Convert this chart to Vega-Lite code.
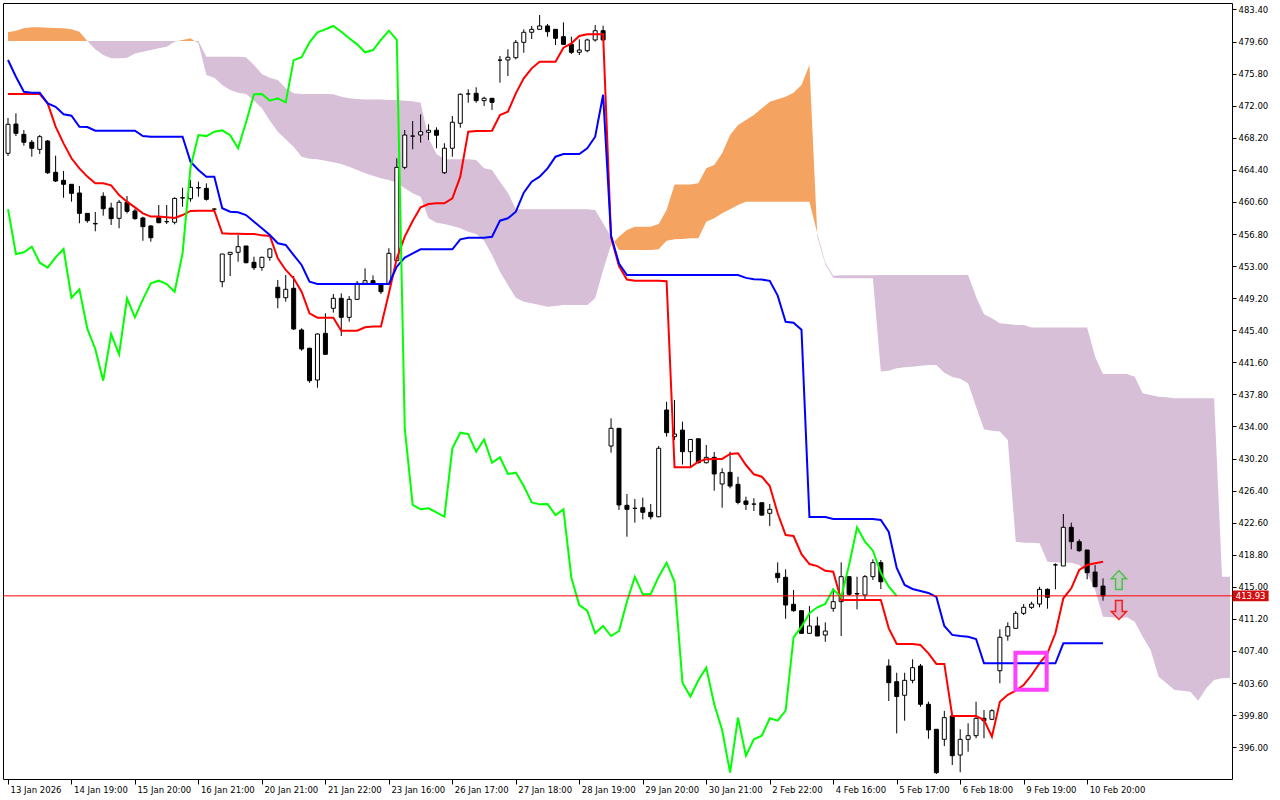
{
"$schema": "https://vega.github.io/schema/vega-lite/v6.json",
"width": 1229, "height": 776,
"autosize": {"type": "none"},
"padding": {"left": 3, "top": 3, "right": 48, "bottom": 21},
"background": "white",
"config": {"view": {"stroke": "black", "strokeWidth": 1}, "font": "DejaVu Sans"},
"datasets": {
"candles": [
{"i":0,"o":466.36,"h":470.55,"l":466.04,"c":469.8,"t":473.39,"k":477.42},
{"i":1,"o":469.83,"h":471.1,"l":468.41,"c":468.73,"t":473.39,"k":475.44},
{"i":2,"o":468.61,"h":469.12,"l":467.26,"c":467.67,"t":473.39,"k":473.66},
{"i":3,"o":467.67,"h":467.94,"l":465.96,"c":466.96,"t":473.39,"k":473.55},
{"i":4,"o":466.83,"h":468.53,"l":466.28,"c":468.33,"t":473.39,"k":473.55},
{"i":5,"o":467.82,"h":467.94,"l":463.91,"c":464.06,"t":472.28,"k":472.28},
{"i":6,"o":464.11,"h":466.08,"l":462.96,"c":463.08,"t":469.52,"k":471.88},
{"i":7,"o":463.16,"h":464.27,"l":461.1,"c":462.69,"t":467.54,"k":470.98},
{"i":8,"o":462.69,"h":462.69,"l":460.63,"c":461.62,"t":465.77,"k":470.82},
{"i":9,"o":461.66,"h":462.49,"l":458.07,"c":459.25,"t":464.58,"k":469.51},
{"i":10,"o":459.25,"h":459.25,"l":458.14,"c":458.38,"t":463.6,"k":469.48},
{"i":11,"o":458.0,"h":459.41,"l":457.12,"c":458.05,"t":462.8,"k":469.04},
{"i":12,"o":461.27,"h":461.74,"l":458.97,"c":459.8,"t":462.8,"k":469.04},
{"i":13,"o":459.88,"h":460.51,"l":457.87,"c":458.62,"t":462.57,"k":469.04},
{"i":14,"o":458.66,"h":460.83,"l":457.48,"c":460.56,"t":461.42,"k":469.04},
{"i":15,"o":460.56,"h":461.3,"l":459.25,"c":459.49,"t":460.63,"k":469.04},
{"i":16,"o":459.53,"h":459.8,"l":458.5,"c":458.62,"t":459.96,"k":469.04},
{"i":17,"o":458.7,"h":458.85,"l":456.0,"c":457.67,"t":459.25,"k":468.41},
{"i":18,"o":457.75,"h":457.87,"l":455.89,"c":456.36,"t":458.86,"k":468.33},
{"i":19,"o":458.73,"h":460.24,"l":458.07,"c":458.14,"t":458.86,"k":468.33},
{"i":20,"o":458.26,"h":460.24,"l":457.99,"c":458.26,"t":458.78,"k":468.33},
{"i":21,"o":458.19,"h":461.14,"l":457.95,"c":461.02,"t":458.7,"k":468.33},
{"i":22,"o":461.06,"h":462.29,"l":460.03,"c":461.1,"t":459.05,"k":468.33},
{"i":23,"o":460.98,"h":463.2,"l":460.63,"c":462.33,"t":459.53,"k":465.37},
{"i":24,"o":462.3,"h":463.0,"l":461.22,"c":462.25,"t":459.57,"k":464.38},
{"i":25,"o":462.21,"h":462.8,"l":460.75,"c":460.91,"t":459.57,"k":463.59},
{"i":26,"o":459.75,"h":459.85,"l":459.65,"c":459.75,"t":459.57,"k":463.59},
{"i":27,"o":451.15,"h":454.43,"l":450.49,"c":454.43,"t":456.88,"k":459.85},
{"i":28,"o":454.39,"h":454.63,"l":451.82,"c":454.63,"t":456.84,"k":459.44},
{"i":29,"o":454.63,"h":456.68,"l":453.52,"c":455.3,"t":456.84,"k":459.37},
{"i":30,"o":455.38,"h":455.38,"l":453.33,"c":453.4,"t":456.8,"k":459.05},
{"i":31,"o":453.45,"h":454.11,"l":452.54,"c":452.81,"t":456.8,"k":458.26},
{"i":32,"o":452.85,"h":454.11,"l":452.45,"c":454.04,"t":456.64,"k":457.48},
{"i":33,"o":454.04,"h":455.11,"l":453.64,"c":455.03,"t":456.56,"k":456.68},
{"i":34,"o":450.49,"h":451.35,"l":448.0,"c":449.25,"t":453.92,"k":455.7},
{"i":35,"o":449.25,"h":451.94,"l":448.78,"c":450.25,"t":452.54,"k":455.5},
{"i":36,"o":450.37,"h":451.82,"l":445.43,"c":445.55,"t":451.55,"k":454.31},
{"i":37,"o":445.43,"h":445.63,"l":442.97,"c":443.18,"t":449.97,"k":453.13},
{"i":38,"o":443.26,"h":443.33,"l":439.18,"c":439.42,"t":447.4,"k":451.15},
{"i":39,"o":439.5,"h":445.03,"l":438.59,"c":444.95,"t":446.89,"k":450.88},
{"i":40,"o":445.03,"h":447.4,"l":442.55,"c":442.55,"t":446.89,"k":450.88},
{"i":41,"o":448.0,"h":449.69,"l":447.48,"c":449.18,"t":446.89,"k":450.88},
{"i":42,"o":449.18,"h":449.77,"l":444.72,"c":446.93,"t":445.35,"k":450.88},
{"i":43,"o":446.93,"h":449.45,"l":446.41,"c":449.06,"t":445.35,"k":450.88},
{"i":44,"o":449.06,"h":451.23,"l":448.98,"c":450.96,"t":445.35,"k":450.88},
{"i":45,"o":450.96,"h":452.73,"l":450.76,"c":451.27,"t":445.75,"k":450.88},
{"i":46,"o":451.27,"h":451.9,"l":450.76,"c":450.88,"t":445.83,"k":450.88},
{"i":47,"o":450.88,"h":450.88,"l":449.69,"c":449.97,"t":445.83,"k":450.88},
{"i":48,"o":450.88,"h":455.11,"l":450.88,"c":454.51,"t":449.77,"k":450.88},
{"i":49,"o":453.64,"h":465.77,"l":453.6,"c":464.7,"t":453.92,"k":452.93},
{"i":50,"o":464.7,"h":469.12,"l":464.47,"c":468.53,"t":456.49,"k":454.0},
{"i":51,"o":468.4,"h":470.19,"l":466.84,"c":468.4,"t":458.35,"k":454.5},
{"i":52,"o":468.53,"h":470.98,"l":467.62,"c":468.92,"t":459.96,"k":454.99},
{"i":53,"o":468.85,"h":469.8,"l":467.94,"c":469.09,"t":460.36,"k":454.99},
{"i":54,"o":469.09,"h":469.44,"l":466.96,"c":468.5,"t":460.43,"k":454.99},
{"i":55,"o":464.06,"h":467.55,"l":463.91,"c":466.96,"t":460.43,"k":454.99},
{"i":56,"o":466.96,"h":470.78,"l":465.96,"c":470.04,"t":461.03,"k":454.99},
{"i":57,"o":469.92,"h":473.47,"l":469.4,"c":473.35,"t":463.6,"k":456.17},
{"i":58,"o":473.4,"h":473.94,"l":472.36,"c":473.4,"t":468.93,"k":456.36},
{"i":59,"o":473.47,"h":474.18,"l":472.36,"c":472.6,"t":469.0,"k":456.36},
{"i":60,"o":472.6,"h":473.07,"l":471.97,"c":472.88,"t":469.0,"k":456.36},
{"i":61,"o":472.88,"h":472.88,"l":471.5,"c":472.4,"t":469.04,"k":456.48},
{"i":62,"o":477.4,"h":477.89,"l":474.73,"c":477.4,"t":470.9,"k":458.38},
{"i":63,"o":477.42,"h":478.69,"l":475.52,"c":477.74,"t":471.3,"k":458.66},
{"i":64,"o":477.69,"h":479.79,"l":477.49,"c":479.51,"t":473.47,"k":459.44},
{"i":65,"o":479.51,"h":481.05,"l":478.28,"c":480.7,"t":475.25,"k":461.7},
{"i":66,"o":480.7,"h":481.45,"l":479.9,"c":481.05,"t":476.43,"k":463.0},
{"i":67,"o":481.05,"h":482.75,"l":481.05,"c":481.45,"t":477.22,"k":463.59},
{"i":68,"o":481.45,"h":481.68,"l":480.18,"c":480.77,"t":477.22,"k":464.58},
{"i":69,"o":481.05,"h":481.05,"l":479.19,"c":479.99,"t":477.22,"k":465.96},
{"i":70,"o":480.18,"h":481.88,"l":479.19,"c":479.27,"t":478.88,"k":466.28},
{"i":71,"o":479.27,"h":480.18,"l":478.13,"c":478.33,"t":479.39,"k":466.28},
{"i":72,"o":478.33,"h":479.87,"l":478.01,"c":478.6,"t":480.26,"k":466.28},
{"i":73,"o":478.52,"h":479.94,"l":478.33,"c":479.79,"t":480.46,"k":466.96},
{"i":74,"o":479.79,"h":481.56,"l":479.59,"c":480.89,"t":480.46,"k":468.33},
{"i":75,"o":480.89,"h":481.48,"l":479.71,"c":479.79,"t":480.46,"k":473.3},
{"i":76,"o":431.68,"h":434.96,"l":430.89,"c":433.78,"t":456.4,"k":456.6},
{"i":77,"o":433.78,"h":433.78,"l":424.1,"c":424.7,"t":453.0,"k":453.3},
{"i":78,"o":424.66,"h":426.0,"l":420.94,"c":424.18,"t":451.41,"k":451.94},
{"i":79,"o":424.3,"h":425.4,"l":422.6,"c":424.3,"t":451.25,"k":451.94},
{"i":80,"o":424.37,"h":425.56,"l":422.99,"c":423.83,"t":451.25,"k":451.94},
{"i":81,"o":423.83,"h":424.81,"l":422.99,"c":423.3,"t":451.25,"k":451.94},
{"i":82,"o":423.3,"h":431.68,"l":423.24,"c":431.41,"t":451.25,"k":451.94},
{"i":83,"o":435.95,"h":436.93,"l":432.79,"c":433.26,"t":451.21,"k":451.94},
{"i":84,"o":432.79,"h":437.13,"l":432.4,"c":433.1,"t":429.16,"k":451.94},
{"i":85,"o":433.57,"h":434.57,"l":429.49,"c":431.01,"t":429.16,"k":451.94},
{"i":86,"o":431.01,"h":432.46,"l":429.16,"c":432.46,"t":429.16,"k":451.94},
{"i":87,"o":432.54,"h":432.54,"l":429.62,"c":429.7,"t":429.83,"k":451.94},
{"i":88,"o":429.7,"h":431.8,"l":429.62,"c":430.34,"t":430.1,"k":451.94},
{"i":89,"o":430.34,"h":430.98,"l":426.39,"c":428.37,"t":430.15,"k":451.94},
{"i":90,"o":427.18,"h":429.04,"l":424.37,"c":428.52,"t":430.15,"k":451.94},
{"i":91,"o":428.56,"h":431.0,"l":426.67,"c":426.94,"t":430.74,"k":451.94},
{"i":92,"o":427.14,"h":428.04,"l":424.77,"c":425.0,"t":430.82,"k":451.94},
{"i":93,"o":425.17,"h":425.68,"l":424.1,"c":424.77,"t":429.43,"k":451.6},
{"i":94,"o":424.8,"h":425.49,"l":423.98,"c":424.8,"t":428.33,"k":451.45},
{"i":95,"o":424.96,"h":424.96,"l":423.39,"c":423.5,"t":428.05,"k":451.4},
{"i":96,"o":423.71,"h":424.81,"l":422.2,"c":424.18,"t":426.94,"k":451.25},
{"i":97,"o":416.6,"h":417.9,"l":415.49,"c":416.08,"t":423.71,"k":449.5},
{"i":98,"o":416.13,"h":417.07,"l":411.22,"c":412.84,"t":421.14,"k":446.4},
{"i":99,"o":412.93,"h":414.62,"l":412.05,"c":412.17,"t":421.02,"k":446.3},
{"i":100,"o":412.17,"h":412.17,"l":409.41,"c":409.49,"t":418.87,"k":445.45},
{"i":101,"o":409.49,"h":412.72,"l":409.41,"c":410.36,"t":417.7,"k":423.27},
{"i":102,"o":410.36,"h":411.46,"l":409.17,"c":409.17,"t":417.45,"k":423.27},
{"i":103,"o":409.29,"h":410.79,"l":408.49,"c":409.76,"t":416.9,"k":423.27},
{"i":104,"o":412.45,"h":414.82,"l":412.05,"c":413.24,"t":416.79,"k":423.03},
{"i":105,"o":413.24,"h":417.9,"l":409.17,"c":416.2,"t":413.44,"k":423.03},
{"i":106,"o":416.2,"h":416.2,"l":413.94,"c":414.11,"t":413.44,"k":423.03},
{"i":107,"o":414.2,"h":416.2,"l":412.33,"c":414.15,"t":413.44,"k":423.03},
{"i":108,"o":414.03,"h":416.4,"l":413.44,"c":416.2,"t":413.44,"k":423.03},
{"i":109,"o":416.2,"h":418.26,"l":415.8,"c":417.86,"t":413.44,"k":423.03},
{"i":110,"o":417.86,"h":418.18,"l":414.74,"c":415.6,"t":413.44,"k":422.92},
{"i":111,"o":405.62,"h":406.41,"l":401.47,"c":403.64,"t":410.08,"k":421.5},
{"i":112,"o":403.76,"h":404.82,"l":397.63,"c":402.0,"t":408.22,"k":417.23},
{"i":113,"o":402.15,"h":404.82,"l":399.14,"c":403.92,"t":408.22,"k":415.22},
{"i":114,"o":403.92,"h":406.41,"l":403.57,"c":405.42,"t":408.22,"k":414.74},
{"i":115,"o":405.62,"h":405.86,"l":400.8,"c":401.08,"t":408.1,"k":414.5},
{"i":116,"o":401.08,"h":401.39,"l":397.0,"c":398.04,"t":407.12,"k":414.27},
{"i":117,"o":398.12,"h":398.12,"l":392.82,"c":392.98,"t":405.86,"k":413.8},
{"i":118,"o":396.93,"h":400.3,"l":396.13,"c":399.5,"t":405.86,"k":410.36},
{"i":119,"o":399.7,"h":399.8,"l":393.89,"c":394.99,"t":399.7,"k":409.3},
{"i":120,"o":395.07,"h":398.12,"l":393.03,"c":396.93,"t":399.7,"k":409.17},
{"i":121,"o":396.93,"h":398.83,"l":395.46,"c":397.36,"t":399.7,"k":409.09},
{"i":122,"o":397.36,"h":401.39,"l":397.05,"c":399.42,"t":399.7,"k":408.82},
{"i":123,"o":399.42,"h":400.4,"l":397.05,"c":399.14,"t":399.22,"k":405.94},
{"i":124,"o":399.3,"h":400.5,"l":399.22,"c":400.32,"t":397.24,"k":405.94},
{"i":125,"o":405.06,"h":409.97,"l":403.57,"c":409.02,"t":401.39,"k":405.94},
{"i":126,"o":409.17,"h":410.79,"l":408.61,"c":410.28,"t":402.2,"k":405.94},
{"i":127,"o":410.08,"h":412.13,"l":410.08,"c":411.86,"t":402.69,"k":405.94},
{"i":128,"o":411.86,"h":412.96,"l":411.66,"c":412.57,"t":403.37,"k":405.94},
{"i":129,"o":412.57,"h":413.24,"l":412.37,"c":412.96,"t":404.55,"k":405.94},
{"i":130,"o":412.96,"h":415.01,"l":412.57,"c":414.7,"t":405.94,"k":405.94},
{"i":131,"o":414.7,"h":414.82,"l":412.41,"c":413.76,"t":407.12,"k":405.94},
{"i":132,"o":417.6,"h":417.78,"l":414.7,"c":417.6,"t":409.49,"k":405.94},
{"i":133,"o":417.47,"h":423.63,"l":417.47,"c":422.05,"t":413.64,"k":408.31},
{"i":134,"o":422.05,"h":422.6,"l":419.44,"c":420.35,"t":414.82,"k":408.31},
{"i":135,"o":420.35,"h":420.63,"l":419.16,"c":419.28,"t":416.99,"k":408.31},
{"i":136,"o":419.36,"h":419.36,"l":415.89,"c":416.67,"t":417.58,"k":408.31},
{"i":137,"o":416.75,"h":417.58,"l":415.01,"c":415.01,"t":417.78,"k":408.31},
{"i":138,"o":415.09,"h":416.0,"l":413.35,"c":413.93,"t":417.97,"k":408.31}
],
"chikou": [
{"i":0,"v":459.75},{"i":1,"v":454.43},{"i":2,"v":454.63},{"i":3,"v":455.3},{"i":4,"v":453.4},{"i":5,"v":452.81},{"i":6,"v":454.04},{"i":7,"v":455.03},{"i":8,"v":449.25},{"i":9,"v":450.25},
{"i":10,"v":445.55},{"i":11,"v":443.18},{"i":12,"v":439.42},{"i":13,"v":444.95},{"i":14,"v":442.55},{"i":15,"v":449.18},{"i":16,"v":446.93},{"i":17,"v":449.06},{"i":18,"v":450.96},{"i":19,"v":451.27},
{"i":20,"v":450.88},{"i":21,"v":449.97},{"i":22,"v":454.51},{"i":23,"v":464.7},{"i":24,"v":468.53},{"i":25,"v":468.4},{"i":26,"v":468.92},{"i":27,"v":469.09},{"i":28,"v":468.5},{"i":29,"v":466.96},
{"i":30,"v":470.04},{"i":31,"v":473.35},{"i":32,"v":473.4},{"i":33,"v":472.6},{"i":34,"v":472.88},{"i":35,"v":472.4},{"i":36,"v":477.4},{"i":37,"v":477.74},{"i":38,"v":479.51},{"i":39,"v":480.7},
{"i":40,"v":481.05},{"i":41,"v":481.45},{"i":42,"v":480.77},{"i":43,"v":479.99},{"i":44,"v":479.27},{"i":45,"v":478.33},{"i":46,"v":478.6},{"i":47,"v":479.79},{"i":48,"v":480.89},{"i":49,"v":479.79},
{"i":50,"v":433.78},{"i":51,"v":424.7},{"i":52,"v":424.18},{"i":53,"v":424.3},{"i":54,"v":423.83},{"i":55,"v":423.3},{"i":56,"v":431.41},{"i":57,"v":433.26},{"i":58,"v":433.1},{"i":59,"v":431.01},
{"i":60,"v":432.46},{"i":61,"v":429.7},{"i":62,"v":430.34},{"i":63,"v":428.37},{"i":64,"v":428.52},{"i":65,"v":426.94},{"i":66,"v":425.0},{"i":67,"v":424.77},{"i":68,"v":424.8},{"i":69,"v":423.5},
{"i":70,"v":424.18},{"i":71,"v":416.08},{"i":72,"v":412.84},{"i":73,"v":412.17},{"i":74,"v":409.49},{"i":75,"v":410.36},{"i":76,"v":409.17},{"i":77,"v":409.76},{"i":78,"v":413.24},{"i":79,"v":416.2},
{"i":80,"v":414.11},{"i":81,"v":414.15},{"i":82,"v":416.2},{"i":83,"v":417.86},{"i":84,"v":415.6},{"i":85,"v":403.64},{"i":86,"v":402.0},{"i":87,"v":403.92},{"i":88,"v":405.42},{"i":89,"v":401.08},
{"i":90,"v":398.04},{"i":91,"v":392.98},{"i":92,"v":399.5},{"i":93,"v":394.99},{"i":94,"v":396.93},{"i":95,"v":397.36},{"i":96,"v":399.42},{"i":97,"v":399.14},{"i":98,"v":400.32},{"i":99,"v":409.02},
{"i":100,"v":410.28},{"i":101,"v":411.86},{"i":102,"v":412.57},{"i":103,"v":412.96},{"i":104,"v":414.7},{"i":105,"v":413.76},{"i":106,"v":417.6},{"i":107,"v":422.05},{"i":108,"v":420.35},{"i":109,"v":419.28},
{"i":110,"v":416.67},{"i":111,"v":415.01},{"i":112,"v":413.93}
],
"cloud": [
{"i":0,"a":480.7,"b":479.67,"s":1,"k":"up"},{"i":1,"a":480.89,"b":479.67,"s":1,"k":"up"},{"i":2,"a":481.17,"b":479.67,"s":1,"k":"up"},{"i":3,"a":481.29,"b":479.67,"s":1,"k":"up"},{"i":4,"a":481.29,"b":479.67,"s":1,"k":"up"},{"i":5,"a":481.25,"b":479.67,"s":1,"k":"up"},{"i":6,"a":481.21,"b":479.67,"s":1,"k":"up"},{"i":7,"a":481.17,"b":479.67,"s":1,"k":"up"},{"i":8,"a":481.06,"b":479.67,"s":1,"k":"up"},{"i":9,"a":480.77,"b":479.67,"s":1,"k":"up"},{"i":10,"a":479.67,"b":479.67,"s":1,"k":"up"},
{"i":10,"a":479.67,"b":479.67,"s":2,"k":"dn"},{"i":11,"a":478.68,"b":479.67,"s":2,"k":"dn"},{"i":12,"a":478.01,"b":479.67,"s":2,"k":"dn"},{"i":13,"a":477.62,"b":479.67,"s":2,"k":"dn"},{"i":14,"a":477.62,"b":479.67,"s":2,"k":"dn"},{"i":15,"a":477.69,"b":479.67,"s":2,"k":"dn"},{"i":16,"a":478.2,"b":479.67,"s":2,"k":"dn"},{"i":17,"a":478.4,"b":479.67,"s":2,"k":"dn"},{"i":18,"a":478.6,"b":479.67,"s":2,"k":"dn"},{"i":19,"a":478.8,"b":479.67,"s":2,"k":"dn"},{"i":20,"a":479.0,"b":479.67,"s":2,"k":"dn"},{"i":21,"a":479.59,"b":479.67,"s":2,"k":"dn"},{"i":21.4,"a":479.67,"b":479.67,"s":2,"k":"dn"},
{"i":21.4,"a":479.67,"b":479.67,"s":3,"k":"up"},{"i":22,"a":479.79,"b":479.67,"s":3,"k":"up"},{"i":23,"a":479.98,"b":479.67,"s":3,"k":"up"},{"i":23.53,"a":479.67,"b":479.67,"s":3,"k":"up"},
{"i":23.53,"a":479.67,"b":479.67,"s":4,"k":"dn"},{"i":24,"a":479.39,"b":479.67,"s":4,"k":"dn"},{"i":25,"a":475.64,"b":477.81,"s":4,"k":"dn"},{"i":26,"a":475.32,"b":477.81,"s":4,"k":"dn"},{"i":27,"a":474.46,"b":477.81,"s":4,"k":"dn"},{"i":28,"a":473.86,"b":477.81,"s":4,"k":"dn"},{"i":29,"a":473.54,"b":477.81,"s":4,"k":"dn"},{"i":30,"a":473.39,"b":477.73,"s":4,"k":"dn"},
{"i":31,"a":472.6,"b":476.83,"s":4,"k":"dn"},{"i":32,"a":471.69,"b":475.76,"s":4,"k":"dn"},{"i":33,"a":470.23,"b":475.32,"s":4,"k":"dn"},{"i":34,"a":468.93,"b":475.05,"s":4,"k":"dn"},{"i":35,"a":468.02,"b":474.06,"s":4,"k":"dn"},{"i":36,"a":467.15,"b":473.47,"s":4,"k":"dn"},{"i":37,"a":465.96,"b":473.39,"s":4,"k":"dn"},{"i":38,"a":465.73,"b":473.39,"s":4,"k":"dn"},{"i":39,"a":465.65,"b":473.39,"s":4,"k":"dn"},{"i":40,"a":465.49,"b":473.39,"s":4,"k":"dn"},
{"i":41,"a":465.3,"b":473.35,"s":4,"k":"dn"},{"i":42,"a":465.1,"b":473.07,"s":4,"k":"dn"},{"i":43,"a":464.78,"b":472.88,"s":4,"k":"dn"},{"i":44,"a":464.38,"b":472.8,"s":4,"k":"dn"},{"i":45,"a":463.99,"b":472.75,"s":4,"k":"dn"},{"i":46,"a":463.71,"b":472.75,"s":4,"k":"dn"},{"i":47,"a":463.4,"b":472.75,"s":4,"k":"dn"},{"i":48,"a":463.2,"b":472.68,"s":4,"k":"dn"},{"i":49,"a":462.88,"b":472.68,"s":4,"k":"dn"},{"i":50,"a":462.21,"b":472.6,"s":4,"k":"dn"},
{"i":51,"a":461.62,"b":472.52,"s":4,"k":"dn"},{"i":52,"a":461.22,"b":472.36,"s":4,"k":"dn"},{"i":53,"a":458.66,"b":468.14,"s":4,"k":"dn"},{"i":54,"a":458.14,"b":466.28,"s":4,"k":"dn"},{"i":55,"a":458.0,"b":465.65,"s":4,"k":"dn"},{"i":56,"a":457.75,"b":465.65,"s":4,"k":"dn"},{"i":57,"a":457.47,"b":465.65,"s":4,"k":"dn"},{"i":58,"a":457.07,"b":465.65,"s":4,"k":"dn"},{"i":59,"a":456.8,"b":465.57,"s":4,"k":"dn"},{"i":60,"a":456.0,"b":464.58,"s":4,"k":"dn"},
{"i":61,"a":454.31,"b":464.38,"s":4,"k":"dn"},{"i":62,"a":452.34,"b":463.0,"s":4,"k":"dn"},{"i":63,"a":450.76,"b":461.7,"s":4,"k":"dn"},{"i":64,"a":449.25,"b":459.73,"s":4,"k":"dn"},{"i":65,"a":448.78,"b":459.73,"s":4,"k":"dn"},{"i":66,"a":448.59,"b":459.73,"s":4,"k":"dn"},{"i":67,"a":448.39,"b":459.73,"s":4,"k":"dn"},{"i":68,"a":448.19,"b":459.73,"s":4,"k":"dn"},{"i":69,"a":448.27,"b":459.73,"s":4,"k":"dn"},{"i":70,"a":448.39,"b":459.73,"s":4,"k":"dn"},
{"i":71,"a":448.39,"b":459.73,"s":4,"k":"dn"},{"i":72,"a":448.39,"b":459.73,"s":4,"k":"dn"},{"i":73,"a":448.39,"b":459.73,"s":4,"k":"dn"},{"i":74,"a":449.18,"b":459.64,"s":4,"k":"dn"},{"i":75,"a":452.54,"b":458.07,"s":4,"k":"dn"},{"i":76,"a":455.5,"b":456.48,"s":4,"k":"dn"},{"i":76.38,"a":455.88,"b":455.88,"s":4,"k":"dn"},
{"i":76.38,"a":455.88,"b":455.88,"s":5,"k":"up"},{"i":77,"a":456.48,"b":454.9,"s":5,"k":"up"},{"i":78,"a":457.28,"b":454.9,"s":5,"k":"up"},{"i":79,"a":457.67,"b":454.9,"s":5,"k":"up"},{"i":80,"a":457.67,"b":454.9,"s":5,"k":"up"},{"i":81,"a":457.67,"b":454.9,"s":5,"k":"up"},{"i":82,"a":457.99,"b":454.99,"s":5,"k":"up"},{"i":83,"a":459.64,"b":456.0,"s":5,"k":"up"},{"i":84,"a":462.68,"b":456.17,"s":5,"k":"up"},{"i":85,"a":462.68,"b":456.2,"s":5,"k":"up"},
{"i":86,"a":462.68,"b":456.29,"s":5,"k":"up"},{"i":87,"a":462.8,"b":456.3,"s":5,"k":"up"},{"i":88,"a":464.58,"b":458.26,"s":5,"k":"up"},{"i":89,"a":464.98,"b":458.66,"s":5,"k":"up"},{"i":90,"a":466.36,"b":459.25,"s":5,"k":"up"},{"i":91,"a":468.53,"b":459.73,"s":5,"k":"up"},{"i":92,"a":469.72,"b":460.24,"s":5,"k":"up"},{"i":93,"a":470.31,"b":460.63,"s":5,"k":"up"},{"i":94,"a":470.9,"b":460.63,"s":5,"k":"up"},{"i":95,"a":471.69,"b":460.63,"s":5,"k":"up"},
{"i":96,"a":472.48,"b":460.63,"s":5,"k":"up"},{"i":97,"a":472.76,"b":460.63,"s":5,"k":"up"},{"i":98,"a":473.07,"b":460.63,"s":5,"k":"up"},{"i":99,"a":473.54,"b":460.63,"s":5,"k":"up"},{"i":100,"a":474.46,"b":460.63,"s":5,"k":"up"},{"i":101,"a":476.82,"b":460.63,"s":5,"k":"up"},{"i":101.98,"a":456.91,"b":456.91,"s":5,"k":"up"},
{"i":101.98,"a":456.91,"b":456.91,"s":6,"k":"dn"},{"i":102,"a":456.44,"b":456.82,"s":6,"k":"dn"},{"i":103,"a":453.21,"b":453.43,"s":6,"k":"dn"},{"i":104,"a":451.63,"b":451.85,"s":6,"k":"dn"},{"i":105,"a":451.55,"b":451.9,"s":6,"k":"dn"},{"i":106,"a":451.55,"b":451.9,"s":6,"k":"dn"},{"i":107,"a":451.55,"b":451.9,"s":6,"k":"dn"},{"i":108,"a":451.55,"b":451.9,"s":6,"k":"dn"},{"i":109,"a":451.55,"b":451.9,"s":6,"k":"dn"},{"i":110,"a":440.5,"b":451.94,"s":6,"k":"dn"},
{"i":111,"a":440.6,"b":451.94,"s":6,"k":"dn"},{"i":112,"a":440.89,"b":451.94,"s":6,"k":"dn"},{"i":113,"a":441.0,"b":451.94,"s":6,"k":"dn"},{"i":114,"a":441.08,"b":451.94,"s":6,"k":"dn"},{"i":115,"a":441.2,"b":451.94,"s":6,"k":"dn"},{"i":116,"a":441.28,"b":451.94,"s":6,"k":"dn"},{"i":117,"a":441.28,"b":451.94,"s":6,"k":"dn"},{"i":118,"a":440.37,"b":451.94,"s":6,"k":"dn"},{"i":119,"a":439.86,"b":451.94,"s":6,"k":"dn"},{"i":120,"a":439.66,"b":451.94,"s":6,"k":"dn"},
{"i":121,"a":439.11,"b":451.94,"s":6,"k":"dn"},{"i":122,"a":436.34,"b":449.37,"s":6,"k":"dn"},{"i":123,"a":433.66,"b":447.28,"s":6,"k":"dn"},{"i":124,"a":433.5,"b":446.81,"s":6,"k":"dn"},{"i":125,"a":433.4,"b":446.22,"s":6,"k":"dn"},{"i":126,"a":432.4,"b":446.14,"s":6,"k":"dn"},{"i":127,"a":420.35,"b":446.02,"s":6,"k":"dn"},{"i":128,"a":420.23,"b":446.02,"s":6,"k":"dn"},{"i":129,"a":420.23,"b":445.71,"s":6,"k":"dn"},{"i":130,"a":420.15,"b":445.71,"s":6,"k":"dn"},
{"i":131,"a":417.97,"b":445.71,"s":6,"k":"dn"},{"i":132,"a":417.9,"b":445.71,"s":6,"k":"dn"},{"i":133,"a":417.86,"b":445.71,"s":6,"k":"dn"},{"i":134,"a":417.86,"b":445.71,"s":6,"k":"dn"},{"i":135,"a":417.58,"b":445.71,"s":6,"k":"dn"},{"i":136,"a":416.6,"b":445.71,"s":6,"k":"dn"},{"i":137,"a":414.62,"b":442.26,"s":6,"k":"dn"},{"i":138,"a":411.46,"b":440.21,"s":6,"k":"dn"},{"i":139,"a":411.39,"b":440.21,"s":6,"k":"dn"},{"i":140,"a":411.27,"b":440.21,"s":6,"k":"dn"},
{"i":141,"a":411.39,"b":440.21,"s":6,"k":"dn"},{"i":142,"a":410.87,"b":439.9,"s":6,"k":"dn"},{"i":143,"a":409.09,"b":437.93,"s":6,"k":"dn"},{"i":144,"a":407.51,"b":437.73,"s":6,"k":"dn"},{"i":145,"a":404.35,"b":437.53,"s":6,"k":"dn"},{"i":146,"a":403.57,"b":437.45,"s":6,"k":"dn"},{"i":147,"a":402.78,"b":437.33,"s":6,"k":"dn"},{"i":148,"a":402.7,"b":437.33,"s":6,"k":"dn"},{"i":149,"a":402.57,"b":437.33,"s":6,"k":"dn"},{"i":150,"a":401.51,"b":437.33,"s":6,"k":"dn"},
{"i":151,"a":402.97,"b":437.33,"s":6,"k":"dn"},{"i":152,"a":403.96,"b":437.33,"s":6,"k":"dn"},{"i":153,"a":404.16,"b":416.2,"s":6,"k":"dn"},{"i":154,"a":404.2,"b":416.2,"s":6,"k":"dn"}
],
"bid": [{"p": 413.93, "pos": 156.6}],
"box": [{"x1": 126.96, "x2": 130.9, "p1": 407.19, "p2": 402.81}],
"signals": [{"i": 140, "p": 415.8, "dir": "up"}, {"i": 140, "p": 412.25, "dir": "down"}]
},
"layer": [
{
"data": {"name": "cloud"},
"mark": {"type": "area", "clip": true, "opacity": 1},
"encoding": {
"x": {"field": "i", "type": "quantitative", "title": null,
"scale": {"domain": [0, 153.625], "nice": false, "zero": false},
"axis": {"values": [0,8,16,24,32,40,48,56,64,72,80,88,96,104,112,120,128,136], "tickCount": 40,
"labelExpr": "['13 Jan 2026','14 Jan 19:00','15 Jan 20:00','16 Jan 21:00','20 Jan 21:00','21 Jan 22:00','23 Jan 16:00','26 Jan 17:00','27 Jan 18:00','28 Jan 19:00','29 Jan 20:00','30 Jan 21:00','2 Feb 22:00','4 Feb 16:00','5 Feb 17:00','6 Feb 18:00','9 Feb 19:00','10 Feb 20:00'][round(datum.value/8)]",
"grid": false, "domain": false, "ticks": true, "tickColor": "black", "tickSize": 5,
"labelAlign": "left", "labelOffset": 2, "labelPadding": 1, "labelFont": "DejaVu Sans", "labelFontSize": 8.5,
"labelColor": "black", "labelOverlap": false, "labelFlush": false, "labelBound": false}},
"y": {"field": "a", "type": "quantitative", "title": null,
"scale": {"domain": [392.23, 484.17], "nice": false, "zero": false},
"axis": {"orient": "right", "values": [396.0,399.8,403.6,407.4,411.2,415.0,418.8,422.6,426.4,430.2,434.0,437.8,441.6,445.4,449.2,453.0,456.8,460.6,464.4,468.2,472.0,475.8,479.6,483.4], "tickCount": 50,
"format": ".2f", "grid": false, "domain": false, "tickColor": "black", "tickSize": 4, "labelPadding": 2,
"labelFont": "DejaVu Sans", "labelFontSize": 8.5, "labelColor": "black", "labelOverlap": false, "labelFlush": false, "labelBound": false}},
"y2": {"field": "b"},
"detail": {"field": "s", "type": "nominal"},
"color": {"field": "k", "type": "nominal", "scale": {"domain": ["up", "dn"], "range": ["#F4A460", "#D8BFD8"]}, "legend": null}
}
},
{
"data": {"name": "candles"},
"mark": {"type": "rule", "color": "black", "strokeWidth": 1},
"encoding": {
"x": {"field": "i", "type": "quantitative", "title": null},
"y": {"field": "l", "type": "quantitative", "title": null},
"y2": {"field": "h"}
}
},
{
"data": {"name": "candles"},
"mark": {"type": "bar", "width": 4, "stroke": "black", "strokeWidth": 1},
"encoding": {
"x": {"field": "i", "type": "quantitative", "title": null},
"y": {"field": "o", "type": "quantitative", "title": null},
"y2": {"field": "c"},
"fill": {"condition": {"test": "datum.c > datum.o", "value": "white"}, "value": "black"}
}
},
{
"data": {"name": "candles"},
"mark": {"type": "line", "color": "#FF0000", "strokeWidth": 2},
"encoding": {
"x": {"field": "i", "type": "quantitative", "title": null},
"y": {"field": "t", "type": "quantitative", "title": null}
}
},
{
"data": {"name": "candles"},
"mark": {"type": "line", "color": "#0000FF", "strokeWidth": 2},
"encoding": {
"x": {"field": "i", "type": "quantitative", "title": null},
"y": {"field": "k", "type": "quantitative", "title": null}
}
},
{
"data": {"name": "chikou"},
"mark": {"type": "line", "color": "#00FF00", "strokeWidth": 2},
"encoding": {
"x": {"field": "i", "type": "quantitative", "title": null},
"y": {"field": "v", "type": "quantitative", "title": null}
}
},
{
"data": {"name": "bid"},
"mark": {"type": "rule", "color": "#FF0000", "strokeWidth": 1},
"encoding": {
"y": {"field": "p", "type": "quantitative", "title": null}
}
},
{
"data": {"name": "box"},
"mark": {"type": "rect", "fill": "transparent", "stroke": "#FF40FF", "strokeWidth": 4},
"encoding": {
"x": {"field": "x1", "type": "quantitative", "title": null},
"x2": {"field": "x2"},
"y": {"field": "p1", "type": "quantitative", "title": null},
"y2": {"field": "p2"}
}
},
{
"data": {"name": "signals"},
"mark": {"type": "point", "size": 360, "filled": true, "strokeWidth": 1.5, "fillOpacity": 0.25, "opacity": 1},
"encoding": {
"x": {"field": "i", "type": "quantitative", "title": null},
"y": {"field": "p", "type": "quantitative", "title": null},
"shape": {"field": "dir", "type": "nominal", "legend": null,
"scale": {"domain": ["up", "down"], "range": ["M0,-1L0.8,-0.15L0.35,-0.15L0.35,1L-0.35,1L-0.35,-0.15L-0.8,-0.15Z", "M0,1L0.8,0.15L0.35,0.15L0.35,-1L-0.35,-1L-0.35,0.15L-0.8,0.15Z"]}},
"stroke": {"field": "dir", "type": "nominal", "legend": null, "scale": {"domain": ["up", "down"], "range": ["#4FC04F", "#F02020"]}},
"fill": {"field": "dir", "type": "nominal", "legend": null, "scale": {"domain": ["up", "down"], "range": ["#7FE07F", "#FF6080"]}}
}
},
{
"data": {"name": "bid"},
"mark": {"type": "point", "shape": "M-1,-0.3H1V0.3H-1Z", "size": 1296, "filled": true, "color": "#D01010", "opacity": 1, "clip": false},
"encoding": {
"x": {"field": "pos", "type": "quantitative", "title": null},
"y": {"field": "p", "type": "quantitative", "title": null}
}
},
{
"data": {"name": "bid"},
"mark": {"type": "text", "color": "white", "font": "DejaVu Sans", "fontSize": 8.5, "align": "center", "baseline": "middle", "clip": false},
"encoding": {
"x": {"field": "pos", "type": "quantitative", "title": null},
"y": {"field": "p", "type": "quantitative", "title": null},
"text": {"field": "p", "type": "quantitative", "format": ".2f"}
}
}
]
}
